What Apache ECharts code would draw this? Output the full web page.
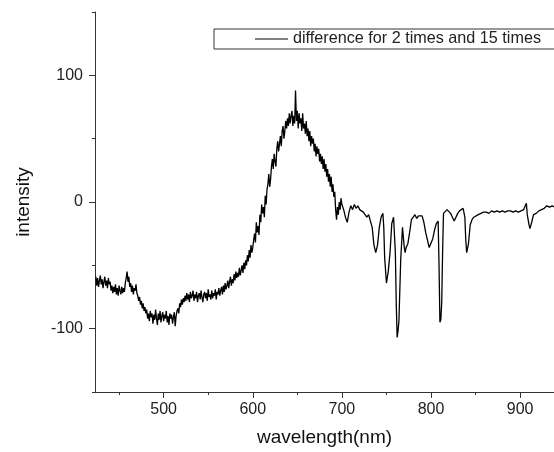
<!DOCTYPE html>
<html>
<head>
<meta charset="utf-8">
<script src="https://cdn.jsdelivr.net/npm/echarts@6/dist/echarts.min.js"></script>
<style>
  html, body { margin: 0; padding: 0; background: #fff; }
  #chart { width: 554px; height: 452px; }
</style>
</head>
<body>
<div id="chart"></div>
<script>
// noisy part of the spectrum, one reading per nm from 424 nm to 700 nm
const noisyStartNm = 424;
const noisyIntensity = [
  -59, -66, -60, -67, -62, -58, -65, -61, -68, -63,
  -59, -66, -62, -68, -60, -65, -63, -70, -66, -72,
  -67, -71, -65, -73, -68, -74, -66, -70, -73, -67,
  -72, -68, -71, -64, -60, -55, -63, -59, -67, -64,
  -71, -66, -73, -68, -70, -65, -72, -74, -78, -75,
  -81, -78, -84, -80, -86, -83, -88, -85, -92, -88,
  -94, -86, -91, -88, -96, -89, -93, -85, -92, -97,
  -88, -93, -86, -95, -90, -87, -94, -89, -92, -86,
  -95, -90, -97, -88, -92, -89, -96, -91, -87, -98,
  -90, -86, -84, -88, -80, -83, -77, -81, -76, -79,
  -74, -78, -72, -77, -73, -79, -71, -76, -74, -70,
  -78, -73, -76, -71, -79, -74, -72, -77, -70, -75,
  -79, -73, -71, -76, -72, -78, -69, -75, -73, -77,
  -70, -76, -72, -74, -69, -77, -71, -73, -68, -74,
  -70, -67, -73, -66, -71, -64, -69, -66, -62, -68,
  -63, -59, -66, -61, -64, -57, -62, -55, -60, -56,
  -59, -52, -58, -54, -50, -56, -48, -53, -46, -50,
  -42, -47, -38, -44, -34, -40, -36, -30, -25, -32,
  -16, -24, -19, -26, -10, -16, -2, -9, -4, -12,
  5, -2, 10, 14, 22, 12, 18, 28, 34, 26,
  38, 32, 28, 42, 48, 40, 46, 52, 44, 56,
  60, 50, 56, 64, 58, 66, 60, 70, 62, 68,
  72, 60, 68, 62, 88, 64, 72, 58, 70, 62,
  66, 56, 70, 58, 62, 54, 64, 52, 58, 48,
  56, 44, 52, 46, 50, 40, 46, 36, 44, 38,
  42, 32, 38, 30, 36, 26, 34, 24, 30, 20,
  26, 16, 22, 12, 20, 8, 14, 4, 8, -6,
  -14, -4, -10, 0, -6, 3, -2
];

// absorption-dip part, 702 nm to the right edge
const dipWavelength = [
  702, 704, 706, 708, 710, 712, 714, 716, 718, 720, 722, 724, 726, 728, 730, 732, 734, 736, 738, 740,
  742, 744, 746, 747, 748, 750, 752, 754, 756, 758, 759, 760, 761, 762, 763, 764, 765, 766, 768, 770,
  771, 772, 774, 776, 778, 780, 782, 784, 786, 788, 790, 792, 794, 796, 798, 800, 802, 804, 806, 808,
  809, 810, 811, 812, 813, 814, 816, 818, 820, 822, 824, 826, 828, 830, 832, 834, 836, 838, 839, 840,
  842, 844, 846, 848, 850, 853, 856, 859, 862, 865, 868, 871, 874, 877, 880, 883, 886, 889, 892, 895,
  898, 901, 904, 907, 908, 910, 911, 913, 915, 918, 921, 924, 927, 930, 933, 936, 938
];
const dipIntensity = [
  -6, -12, -16, -8, -3, -6, -2, -5, -3, -6, -5, -8, -9, -12, -10, -9, -20, -34, -40, -34,
  -20, -12, -9, -20, -44, -64, -55, -40, -17, -12, -13, -40, -80, -107, -102, -94, -70, -46, -20, -36,
  -40, -36, -33, -24, -14, -12, -10, -13, -11, -12, -11, -16, -24, -30, -36, -37, -29, -22, -17, -15,
  -50, -95, -93, -80, -40, -9, -8, -6, -5, -9, -12, -15, -14, -9, -7, -6, -5, -12, -30, -40,
  -33, -18, -14, -12, -11, -10, -9, -8, -8, -9, -7, -8, -7, -8, -7, -8, -7, -7, -8, -7,
  -8, -7, -6, -1, -10, -18, -21, -16, -10, -9, -7, -6, -5, -3, -4, -3, -4
];

const xTicks = [500, 600, 700, 800, 900];
const xMinorTicks = [450, 550, 650, 750, 850];
const yTicks = [-100, 0, 100];
const yMinorTicks = [-150, -50, 50, 150];

const seriesName = 'difference for 2 times and 15 times';

const chart = echarts.init(document.getElementById('chart'), null, { renderer: 'canvas' });

const font = 'Liberation Sans, Arial, sans-serif';
const axisColor = '#333';

var points = [];
noisyIntensity.forEach(function (v, i) {
  points.push([noisyStartNm + i, v]);
});
dipWavelength.forEach(function (w, i) {
  points.push([w, dipIntensity[i]]);
});

function baseAxis(extra) {
  return Object.assign({
    type: 'value',
    axisLine: { show: true, onZero: false, lineStyle: { color: axisColor, width: 1 } },
    splitLine: { show: false },
    minorTick: { show: false }
  }, extra);
}

const option = {
  animation: false,
  backgroundColor: '#fff',
  textStyle: { fontFamily: font },
  grid: { left: 95, top: 12, right: 0, bottom: 60 },
  legend: {
    data: [seriesName],
    left: 214,
    top: 29,
    padding: [2, 20, 2, 41],
    borderColor: '#333',
    borderWidth: 1,
    icon: 'rect',
    itemWidth: 33,
    itemHeight: 1,
    itemStyle: { color: '#000' },
    textStyle: { fontFamily: font, fontSize: 16.2, color: '#222' }
  },
  xAxis: [
    baseAxis({
      min: 423, max: 938,
      name: 'wavelength(nm)',
      nameLocation: 'middle',
      nameGap: 36,
      nameTextStyle: { fontFamily: font, fontSize: 19, color: '#111' },
      axisTick: { show: true, inside: false, length: 6, customValues: xTicks, lineStyle: { color: axisColor } },
      axisLabel: { show: true, margin: 10, fontSize: 16, color: '#222', fontFamily: font, customValues: xTicks }
    }),
    baseAxis({
      min: 423, max: 938,
      position: 'bottom',
      axisLine: { show: false, onZero: false },
      axisTick: { show: true, inside: false, length: 3, customValues: xMinorTicks, lineStyle: { color: axisColor } },
      axisLabel: { show: false }
    })
  ],
  yAxis: [
    baseAxis({
      min: -150, max: 150,
      name: 'intensity',
      nameLocation: 'middle',
      nameGap: 62,
      nameTextStyle: { fontFamily: font, fontSize: 19, color: '#111' },
      axisTick: { show: true, inside: false, length: 6, customValues: yTicks, lineStyle: { color: axisColor } },
      axisLabel: { show: true, margin: 12, fontSize: 16, color: '#222', fontFamily: font, customValues: yTicks }
    }),
    baseAxis({
      min: -150, max: 150,
      position: 'left',
      axisLine: { show: false, onZero: false },
      axisTick: { show: true, inside: false, length: 3, customValues: yMinorTicks, lineStyle: { color: axisColor } },
      axisLabel: { show: false }
    })
  ],
  series: [{
    name: seriesName,
    type: 'line',
    xAxisIndex: 0,
    yAxisIndex: 0,
    symbol: 'none',
    showSymbol: false,
    lineStyle: { color: '#000', width: 1.3 },
    itemStyle: { color: '#000' },
    data: points
  }]
};

chart.setOption(option);
</script>
</body>
</html>
